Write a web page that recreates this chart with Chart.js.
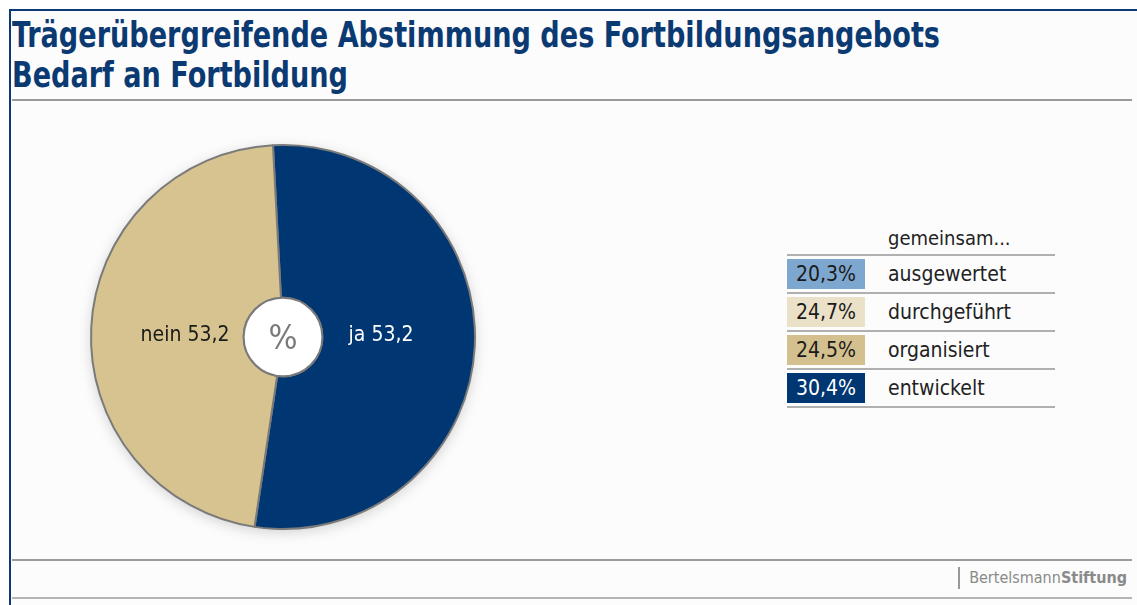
<!DOCTYPE html>
<html>
<head>
<meta charset="utf-8">
<script src="https://cdn.jsdelivr.net/npm/chart.js@4.4.1/dist/chart.umd.min.js"></script>
<style>
  body { margin: 0; background: #fff; width: 1137px; height: 605px; overflow: hidden; position: relative;
         font-family: "DejaVu Sans Condensed", "Liberation Sans Narrow", sans-serif; }
  #frame { position: absolute; left: 9px; top: 9px; width: 1128px; height: 596px; background: #fcfcfc;
           border-left: 2px solid #0b3a73; border-top: 2px solid #0b3a73; }
  #title { position: absolute; left: 12px; top: 15px; color: #0b3a73; font-weight: bold; font-size: 36px;
           line-height: 40px; white-space: nowrap; transform-origin: 0 0; }
  .rule { position: absolute; left: 12px; width: 1120px; height: 2px; background: #9a9a9a; }
  #chartBox { position: absolute; left: 73px; top: 127px; width: 420px; height: 420px; }
  #legend { position: absolute; left: 787px; top: 222px; width: 268px; }
  #legend .head { height: 32px; line-height: 32px; padding-left: 101px; font-size: 20px; color: #222; border-bottom: 2px solid #b0b0b0; }
  #legend .row { height: 36px; border-bottom: 2px solid #b0b0b0; position: relative; }
  #legend .box { position: absolute; left: 0; top: 3px; width: 78px; height: 30px; line-height: 30px; text-align: center; font-size: 21px; }
  #legend .lab { position: absolute; left: 101px; top: 3px; line-height: 30px; font-size: 21px; color: #222; }
  #footer { position: absolute; right: 10px; top: 567px; font-size: 16px; color: #8a8a8a; line-height: 22px; }
  #footer span.bar { display: inline-block; width: 2px; height: 22px; background: #999; vertical-align: top; margin-right: 9px; }
</style>
</head>
<body>
<div id="frame"></div>
<div id="title">Trägerübergreifende Abstimmung des Fortbildungsangebots<br>Bedarf an Fortbildung</div>
<div class="rule" style="top:99px"></div>
<div id="chartBox"><canvas id="myChart"></canvas></div>
<div id="legend"></div>
<div class="rule" style="top:559px"></div>
<div id="footer"><span class="bar"></span>Bertelsmann<b>Stiftung</b></div>
<div class="rule" style="top:597px; height:2px; background:#b5b5b5"></div>

<script>
'use strict';

// pie: Bedarf an Fortbildung
let pieLabels = ['ja', 'nein'];
let pieValues = [53.2, 46.8];
let pieTexts = ['ja 53,2', 'nein 53,2'];
let pieColors = ['#003672', '#d6c38f'];

// table: gemeinsam...
let legendTitle = 'gemeinsam...';
let legendLabels = ['ausgewertet', 'durchgeführt', 'organisiert', 'entwickelt'];
let legendValues = [20.3, 24.7, 24.5, 30.4];
let legendColors = ['#7ea7d0', '#ebe1c8', '#d4c08e', '#003672'];
let legendTextColors = ['#1a1a1a', '#1a1a1a', '#1a1a1a', '#ffffff'];

// squeeze the title to the width of the original (condensed face)
let titleElement = document.getElementById('title');
let titleWidth = titleElement.getBoundingClientRect().width;
titleElement.style.transform = 'scaleX(' + (928 / titleWidth) + ')';

let legendElement = document.getElementById('legend');
let head = document.createElement('div');
head.className = 'head';
head.textContent = legendTitle;
legendElement.appendChild(head);
for (let i = 0; i < legendLabels.length; i++) {
    let row = document.createElement('div');
    row.className = 'row';
    let box = document.createElement('div');
    box.className = 'box';
    box.style.background = legendColors[i];
    box.style.color = legendTextColors[i];
    box.textContent = legendValues[i].toFixed(1).replace('.', ',') + '%';
    let lab = document.createElement('div');
    lab.className = 'lab';
    lab.textContent = legendLabels[i];
    row.appendChild(box);
    row.appendChild(lab);
    legendElement.appendChild(row);
}

// shadow + white hole + labels
let pieDecor = {
    id: 'pieDecor',
    beforeDatasetsDraw(chart) {
        let arc = chart.getDatasetMeta(0).data[0];
        let ctx = chart.ctx;
        ctx.save();
        ctx.shadowColor = 'rgba(0,0,0,0.18)';
        ctx.shadowBlur = 14;
        ctx.shadowOffsetY = 3;
        ctx.fillStyle = '#d6c38f';
        ctx.beginPath();
        ctx.arc(arc.x, arc.y, arc.outerRadius, 0, Math.PI * 2);
        ctx.fill();
        ctx.restore();
    },
    afterDatasetsDraw(chart) {
        let meta = chart.getDatasetMeta(0);
        let ctx = chart.ctx;
        let a0 = meta.data[0];
        ctx.save();
        ctx.fillStyle = '#ffffff';
        ctx.strokeStyle = '#7a7a7a';
        ctx.lineWidth = 2;
        ctx.beginPath();
        ctx.arc(a0.x, a0.y, a0.innerRadius, 0, Math.PI * 2);
        ctx.fill();
        ctx.stroke();
        ctx.fillStyle = '#7a7a7a';
        ctx.font = '34px "DejaVu Sans Condensed", sans-serif';
        ctx.textAlign = 'center';
        ctx.textBaseline = 'middle';
        ctx.fillText('%', a0.x, a0.y + 3);
        ctx.font = '21px "DejaVu Sans Condensed", sans-serif';
        let textColors = ['#ffffff', '#1a1a1a'];
        meta.data.forEach(function (el, i) {
            let mid = (el.startAngle + el.endAngle) / 2;
            let side = Math.cos(mid) >= 0 ? 1 : -1;
            ctx.fillStyle = textColors[i];
            ctx.fillText(pieTexts[i], el.x + side * 98, el.y - 1);
        });
        ctx.restore();
    }
};

let ctx = document.getElementById('myChart').getContext('2d');
let chart = new Chart(ctx, {
    type: 'doughnut',
    data: {
        labels: pieLabels,
        datasets: [{
            data: pieValues,
            backgroundColor: pieColors,
            borderColor: '#7a7a7a',
            borderWidth: 2
        }]
    },
    options: {
        responsive: true,
        maintainAspectRatio: false,
        animation: false,
        rotation: -3,
        cutout: '20.5%',
        layout: { padding: 17 },
        plugins: {
            legend: { display: false },
            tooltip: { enabled: false }
        }
    },
    plugins: [pieDecor]
});
</script>
</body>
</html>
